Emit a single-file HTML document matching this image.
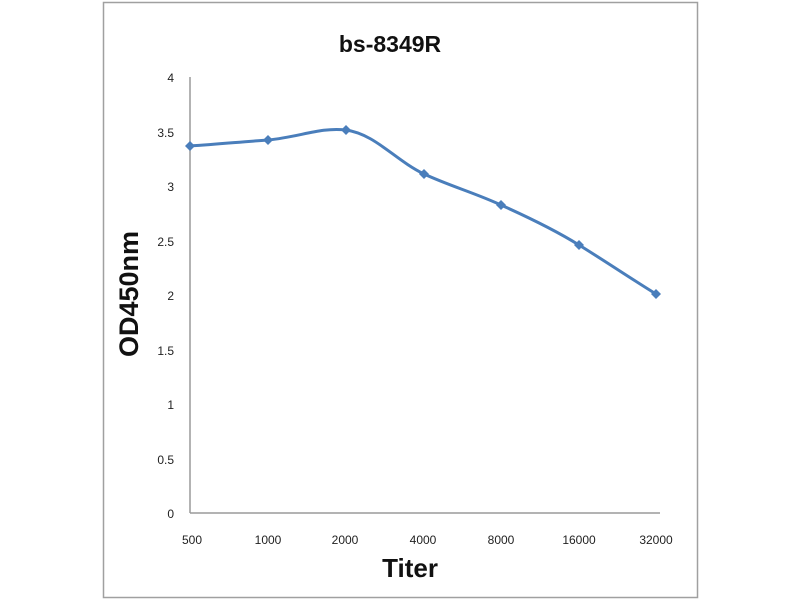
<!DOCTYPE html>
<html><head><meta charset="utf-8"><style>
body{margin:0;background:#fff;}
</style></head><body>
<svg width="800" height="600" xmlns="http://www.w3.org/2000/svg" font-family="Liberation Sans, sans-serif">
<rect x="0" y="0" width="800" height="600" fill="#fff"/>
<rect x="103.5" y="2.5" width="594" height="595" fill="#fff" stroke="#a0a0a0" stroke-width="1.5"/>
<text x="390" y="52" text-anchor="middle" font-size="23" font-weight="bold" fill="#111">bs-8349R</text>
<line x1="190" y1="77" x2="190" y2="513" stroke="#9a9a9a" stroke-width="1.5"/>
<line x1="190" y1="513" x2="660" y2="513" stroke="#9a9a9a" stroke-width="1.5"/>
<g font-size="12" fill="#222" text-anchor="end">
<text x="174" y="82">4</text>
<text x="174" y="137">3.5</text>
<text x="174" y="191">3</text>
<text x="174" y="246">2.5</text>
<text x="174" y="300">2</text>
<text x="174" y="355">1.5</text>
<text x="174" y="409">1</text>
<text x="174" y="464">0.5</text>
<text x="174" y="518">0</text>
</g>
<g font-size="12" fill="#222" text-anchor="middle">
<text x="192" y="544">500</text>
<text x="268" y="544">1000</text>
<text x="345" y="544">2000</text>
<text x="423" y="544">4000</text>
<text x="501" y="544">8000</text>
<text x="579" y="544">16000</text>
<text x="656" y="544">32000</text>
</g>
<text x="410" y="577" text-anchor="middle" font-size="26" font-weight="bold" fill="#111">Titer</text>
<text transform="translate(138,294) rotate(-90)" text-anchor="middle" font-size="27" font-weight="bold" fill="#111">OD450nm</text>
<path d="M190,146 C220,144 240,142 268,140 C300,137 320,127 346,130 C375,134 395,160 424,174 C450,186 475,193 501,205 C530,218 555,230 579,245 C605,261 630,278 656,294" fill="none" stroke="#4a7ebb" stroke-width="3"/>
<g fill="#4a7ebb">
<polygon points="190,141 195,146 190,151 185,146"/>
<polygon points="268,135 273,140 268,145 263,140"/>
<polygon points="346,125 351,130 346,135 341,130"/>
<polygon points="424,169 429,174 424,179 419,174"/>
<polygon points="501,200 506,205 501,210 496,205"/>
<polygon points="579,240 584,245 579,250 574,245"/>
<polygon points="656,289 661,294 656,299 651,294"/>
</g>
</svg>
</body></html>
